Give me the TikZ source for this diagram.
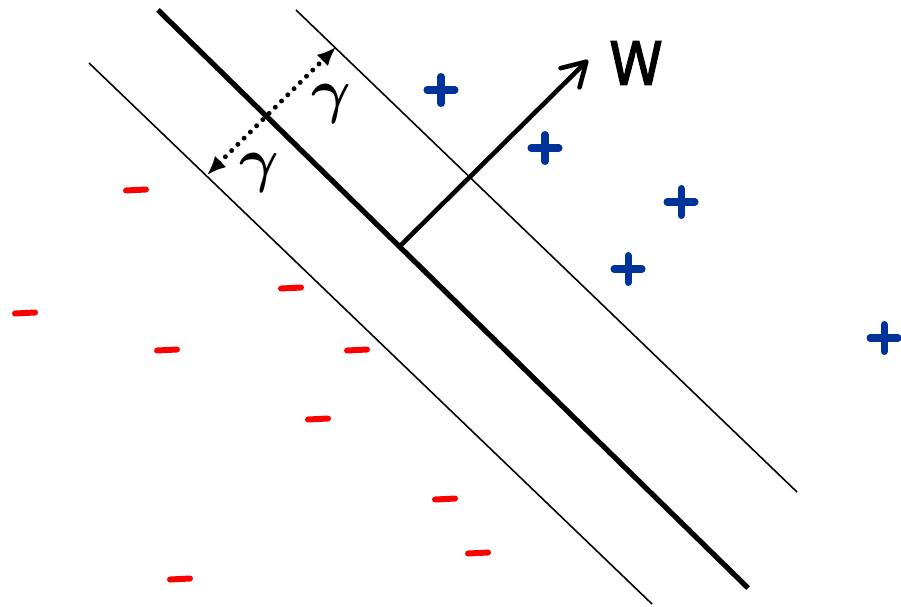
\documentclass[tikz,border=0pt]{standalone}
\usepackage{amsmath}
\usepackage{fontspec}
\newfontfamily\wfont[FakeBold=1.6]{Open Sans}
\usetikzlibrary{arrows.meta}
\definecolor{posblue}{RGB}{0,51,153}
\definecolor{negred}{RGB}{255,0,0}

\begin{document}
\begin{tikzpicture}[x=0.01cm,y=-0.01cm,
  margin/.style={line width=0.45pt},
  hyper/.style={line width=1.5pt},
  wvec/.style={line width=1.3pt,-{Straight Barb[length=2.3mm,width=2.7mm,line cap=round,line join=round]}},
  gap/.style={line width=1.4pt,line cap=round,dash pattern=on 0pt off 2.5pt,
    {Latex[length=1.9mm,width=1.6mm]}-{Latex[length=1.9mm,width=1.6mm]}},
  plusmark/.style={posblue,line width=2pt,line cap=round},
  minusmark/.style={negred,line width=1.7pt,line cap=round},
  lab/.style={inner sep=0pt,font=\fontsize{19}{19}\selectfont}]
\useasboundingbox (0,0) rectangle (901,606);

% hyperplane and margins
\coordinate (h1) at (158,10);
\coordinate (h2) at (748,588);
\coordinate (u1) at (296,10);
\coordinate (u2) at (797,492);
\coordinate (l1) at (89,63);
\coordinate (l2) at (652,604);
\draw[hyper] (h1) -- (h2);
\draw[margin] (u1) -- (u2);
\draw[margin] (l1) -- (l2);

% normal vector
\coordinate (foot) at (400,246);
\coordinate (wtip) at (588,60);
\draw[wvec] (foot) -- (wtip);
\node[inner sep=0pt,xscale=0.82,font=\wfont\fontsize{23}{23}\selectfont] (w) at (636,63) {w};

% margin width
\coordinate (gl) at (207,175);
\coordinate (gu) at (336,47);
\draw[gap] (gl) -- (gu);
\node[lab] (gup) at (331,104) {$\boldsymbol{\gamma}$};
\node[lab] (glow) at (259,173) {$\boldsymbol{\gamma}$};

% samples
\foreach \x/\y in {441/90,545/148,681/202,628/269,884/338}
  \draw[plusmark] (\x-14,\y) -- (\x+14,\y) (\x,\y-13.5) -- (\x,\y+13.5);
\foreach \x/\y in {136/190,25/313,167/350,291/288,357/350,318/419,445/499,478/553,180/579}
  \draw[minusmark] (\x-10,\y+0.5) -- (\x+10,\y-0.5);
\end{tikzpicture}
\end{document}
